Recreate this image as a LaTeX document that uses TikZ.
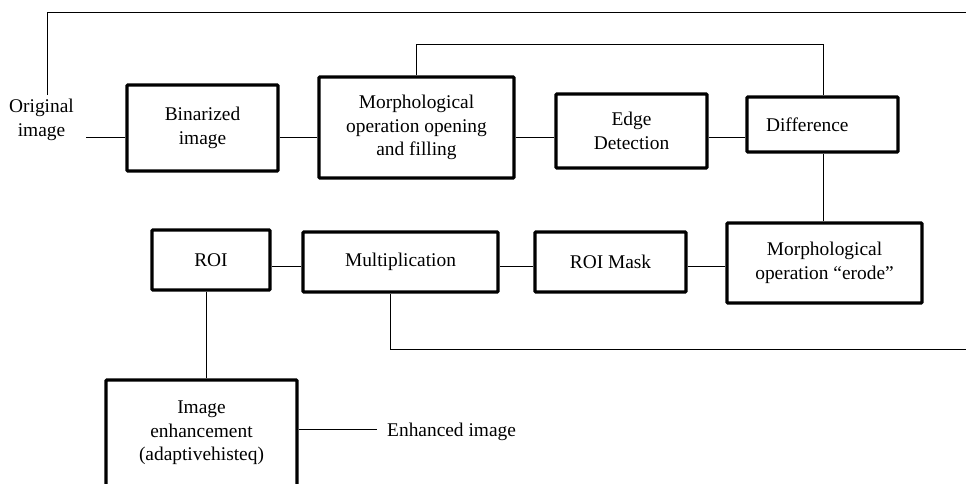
\documentclass[tikz,border=0pt]{standalone}
\usepackage{fontspec}
\setmainfont{Liberation Serif}
\begin{document}
\begin{tikzpicture}[x=1pt,y=-1pt,
  box/.style={draw=black,line width=3.3pt,rounded corners=1pt,inner sep=0pt,align=center,
    font=\fontsize{19.4}{23.5}\selectfont},
  lbl/.style={inner sep=0pt,align=center,font=\fontsize{19.4}{23.5}\selectfont},
  conn/.style={draw=black,line width=1pt}]
\clip (0,0) rectangle (966,483);
\fill[white] (0,0) rectangle (966,483);
% top row
\node[lbl] (orig) at (41.5,120) {Original\\image};
\node[box,minimum width=151,minimum height=86] (bin) at (202.5,128) {Binarized\\image};
\node[box,minimum width=195,minimum height=101] (morph) at (416.5,127.5) {Morphological\\operation opening\\and filling};
\node[box,minimum width=151,minimum height=74] (edge) at (631.5,131) {Edge\\Detection};
\node[box,minimum width=151,minimum height=55,text width=113,inner xsep=19,align=left] (diff) at (822.5,124.5) {Difference};
% second row
\node[box,minimum width=195,minimum height=80] (erode) at (824.5,263) {Morphological\\operation “erode”};
\node[box,minimum width=151,minimum height=60] (mask) at (610.5,262) {ROI Mask};
\node[box,minimum width=195,minimum height=60] (mult) at (400.5,262) {Multiplication};
\node[box,minimum width=118,minimum height=60] (roi) at (211,260) {ROI};
% third row
\node[box,minimum width=191,minimum height=106] (enh) at (201.5,433) {Image\\enhancement\\(adaptivehisteq)};
\node[lbl,anchor=west] (out) at (387,432) {Enhanced image};
% helper coordinates
\coordinate (row1) at (0,137);
\coordinate (row2) at (0,266);
\coordinate (origin) at (86,137);
\coordinate (topL) at (47,95);
\coordinate (topY) at (0,12);
\coordinate (rightE) at (966,0);
\coordinate (fbY) at (0,44);
\coordinate (fbX) at (823,0);
\coordinate (bY) at (0,349);
\coordinate (enhEnd) at (377,429);
\coordinate (multX) at (390,0);
\coordinate (roiX) at (206,0);
% connectors
\draw[conn] (origin) -- (bin.west |- row1);
\draw[conn] (topL) -- (topL |- topY) -- (rightE |- topY);
\draw[conn] (bin.east |- row1) -- (morph.west |- row1);
\draw[conn] (morph.east |- row1) -- (edge.west |- row1);
\draw[conn] (edge.east |- row1) -- (diff.west |- row1);
\draw[conn] (morph.north) -- (morph.north |- fbY) -- (fbX |- fbY) -- (fbX |- diff.north);
\draw[conn] (fbX |- diff.south) -- (fbX |- erode.north);
\draw[conn] (erode.west |- row2) -- (mask.east |- row2);
\draw[conn] (mask.west |- row2) -- (mult.east |- row2);
\draw[conn] (mult.west |- row2) -- (roi.east |- row2);
\draw[conn] (multX |- mult.south) -- (multX |- bY) -- (rightE |- bY);
\draw[conn] (roiX |- roi.south) -- (roiX |- enh.north);
\draw[conn] (enh.east |- enhEnd) -- (enhEnd);
\end{tikzpicture}
\end{document}
